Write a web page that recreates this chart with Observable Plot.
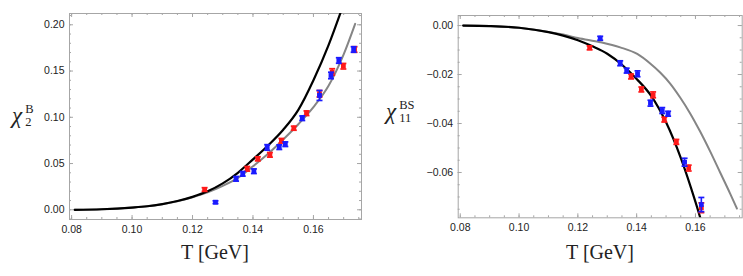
<!DOCTYPE html>
<html><head><meta charset="utf-8">
<script src="https://cdn.jsdelivr.net/npm/d3@7"></script>
<script src="https://cdn.jsdelivr.net/npm/@observablehq/plot@0.6"></script>
<style>
body{margin:0;background:#fff;}
#wrap{position:relative;width:743px;height:276px;overflow:hidden;background:#fff;}
.panel{position:absolute;top:0;}
.xlab{position:absolute;font-family:"Liberation Serif","DejaVu Serif",serif;font-size:20px;color:#222;white-space:nowrap;transform:translateX(-50%);line-height:22px;}
.ylab{position:absolute;font-family:"Liberation Serif","DejaVu Serif",serif;color:#222;white-space:nowrap;display:flex;align-items:center;}
.chi{font-style:italic;font-size:23px;line-height:24px;}
.ss{display:inline-flex;flex-direction:column;font-size:12.5px;line-height:13px;margin-left:3px;}
</style></head><body><div id="wrap"></div>
<script>
// ---- data ----
const tempRed  = [0.1240,0.1381,0.1416,0.1456,0.1494,0.1535,0.1577,0.1620,0.1662,0.1699,0.1736];
const chi2Red  = [0.0219,0.0443,0.0551,0.0594,0.0746,0.0882,0.1044,0.1254,0.1490,0.1552,0.1733];
const chi2RedErr = [0.0020,0.0025,0.0022,0.0025,0.0025,0.0022,0.0025,0.0035,0.0035,0.0030,0.0030];
const tempBlue = [0.1276,0.1344,0.1366,0.1403,0.1447,0.1487,0.1507,0.1563,0.1620,0.1658,0.1684,0.1733];
const chi2Blue = [0.0082,0.0335,0.0389,0.0417,0.0674,0.0677,0.0709,0.0990,0.1236,0.1452,0.1614,0.1733];
const chi2BlueErr = [0.0015,0.0025,0.0025,0.0025,0.0030,0.0025,0.0025,0.0025,0.0054,0.0035,0.0030,0.0030];

const chi11Red = [-0.0091,-0.0208,-0.0261,-0.0283,-0.0384,-0.0475,-0.0582,-0.0744];
const chi11RedErr = [0.0008,0.0010,0.0010,0.0012,0.0010,0.0010,0.0012,0.0020];
const chi11Blue = [-0.0052,-0.0154,-0.0184,-0.0197,-0.0317,-0.0347,-0.0360,-0.0558,-0.0731];
const chi11BlueErr = [0.0008,0.0010,0.0010,0.0012,0.0012,0.0012,0.0010,0.0016,0.0029];

const curveT_L1 = [0.081,0.090,0.100,0.105,0.110,0.115,0.120,0.125,0.130,0.135,0.140,0.145,0.150,0.155,0.160,0.165,0.1695];
const chi2Black = [0.0000,0.0006,0.0024,0.0038,0.0062,0.0095,0.0140,0.0200,0.0285,0.0400,0.0545,0.0695,0.0865,0.1080,0.1400,0.1780,0.2180];
const curveT_L2 = [0.081,0.090,0.100,0.105,0.110,0.115,0.120,0.125,0.130,0.135,0.140,0.145,0.150,0.155,0.160,0.165,0.170,0.1738];
const chi2Gray  = [0.0000,0.0006,0.0024,0.0038,0.0060,0.0092,0.0135,0.0188,0.0258,0.0345,0.0470,0.0605,0.0760,0.0925,0.1110,0.1340,0.1680,0.2010];

const curveT_R1 = [0.081,0.090,0.100,0.110,0.115,0.120,0.125,0.130,0.135,0.140,0.145,0.150,0.155,0.160,0.1625];
const chi11Black = [0.0000,-0.0002,-0.0009,-0.0027,-0.0041,-0.0060,-0.0085,-0.0115,-0.0160,-0.0218,-0.0288,-0.0395,-0.0540,-0.0720,-0.0820];
const curveT_R2 = [0.081,0.090,0.100,0.110,0.115,0.120,0.1276,0.1344,0.1402,0.1446,0.1480,0.1514,0.1548,0.1582,0.1616,0.1650,0.1684,0.1718,0.1741];
const chi11Gray  = [0.0000,-0.0002,-0.0009,-0.0026,-0.0037,-0.0051,-0.0068,-0.0089,-0.0116,-0.0155,-0.0192,-0.0237,-0.0294,-0.0359,-0.0433,-0.0514,-0.0600,-0.0686,-0.0747];

const xTicks = [0.08,0.10,0.12,0.14,0.16];
const yTicksL = [0.00,0.05,0.10,0.15,0.20];
const yTicksR = [0.00,-0.02,-0.04,-0.06];
const xLabel = "T [GeV]";

// ---- helpers ----
const RED = "#ff1a1a", BLUE = "#1a1aff";
const cap = {draw(ctx, size){ const r = Math.sqrt(size/Math.PI); ctx.moveTo(-r,0); ctx.lineTo(r,0); }};
const rows = (ts, vs, es) => vs.map((v,i)=>({T: ts[i], v, lo: v-es[i], hi: v+es[i]}));
const range = (a,b,s) => d3.range(Math.round(a/s), Math.round(b/s)+1).map(k=>+(k*s).toFixed(6));

function pointMarks(data, color){
  return [
    Plot.ruleX(data, {x:"T", y1:"lo", y2:"hi", stroke:color, strokeWidth:1.6}),
    Plot.dot(data, {x:"T", y:"lo", symbol:cap, r:3, stroke:color, strokeWidth:1.7}),
    Plot.dot(data, {x:"T", y:"hi", symbol:cap, r:3, stroke:color, strokeWidth:1.7}),
    Plot.dot(data, {x:"T", y:"v", symbol:"square", r:2.7, fill:color})
  ];
}

function panel(o){
  const ph = o.height - o.mt - o.mb, pw = o.width - o.ml - o.mr;
  const frameColor = "#a6a6a6";
  const tk = (vals, len, side) => side==="bottom" ? Plot.tickX(vals,{x:d=>d, insetTop:ph-len, stroke:frameColor})
    : side==="top" ? Plot.tickX(vals,{x:d=>d, insetBottom:ph-len, stroke:frameColor})
    : side==="left" ? Plot.tickY(vals,{y:d=>d, insetRight:pw-len, stroke:frameColor})
    : Plot.tickY(vals,{y:d=>d, insetLeft:pw-len, stroke:frameColor});
  return Plot.plot({
    width:o.width, height:o.height,
    marginLeft:o.ml, marginRight:o.mr, marginTop:o.mt, marginBottom:o.mb,
    x:{domain:o.xd}, y:{domain:o.yd},
    style:{fontFamily:"'Liberation Sans', Arial, sans-serif", fontSize:"10.5px", color:"#222", background:"transparent", overflow:"visible"},
    marks:[
      ...["bottom","top"].flatMap(s=>[tk(o.xMinor,2,s), tk(xTicks,4,s)]),
      ...["left","right"].flatMap(s=>[tk(o.yMinor,2,s), tk(o.yMajor,4,s)]),
      Plot.frame({stroke:frameColor, strokeWidth:1}),
      Plot.axisX({ticks:xTicks, tickSize:0, tickPadding:6, tickFormat:d3.format(".2f"), label:null}),
      Plot.axisY({ticks:o.yMajor, tickSize:0, tickPadding:5, tickFormat:d3.format(".2f"), label:null}),
      Plot.line(o.gray, {x:"T", y:"v", stroke:"#858585", strokeWidth:2, curve:"monotone-x", clip:true}),
      Plot.line(o.black, {x:"T", y:"v", stroke:"#000", strokeWidth:2.2, curve:"monotone-x", clip:true}),
      ...pointMarks(o.red, RED),
      ...pointMarks(o.blue, BLUE)
    ]
  });
}

const wrap = document.getElementById("wrap");
const xd = [0.0793, 0.1759];
const line = (ts, vs) => vs.map((v,i)=>({T: ts[i], v}));

const left = panel({width:370, height:276, ml:69, mr:9, mt:13, mb:57, xd, yd:[-0.0105,0.2122],
  xMinor: range(0.08,0.175,0.005), yMajor: yTicksL, yMinor: range(-0.01,0.21,0.01),
  gray: line(curveT_L2, chi2Gray), black: line(curveT_L1, chi2Black),
  red: rows(tempRed, chi2Red, chi2RedErr), blue: rows(tempBlue, chi2Blue, chi2BlueErr)});
left.classList.add("panel"); left.style.left = "0px";
wrap.appendChild(left);

const right = panel({width:373, height:276, ml:87.7, mr:1.3, mt:15, mb:58.7, xd, yd:[-0.0785,0.0041],
  xMinor: range(0.08,0.175,0.005), yMajor: yTicksR, yMinor: range(-0.075,0.0,0.005),
  gray: line(curveT_R2, chi11Gray), black: line(curveT_R1, chi11Black),
  red: rows(tempRed, chi11Red, chi11RedErr), blue: rows(tempBlue, chi11Blue, chi11BlueErr)});
right.classList.add("panel"); right.style.left = "370px";
wrap.appendChild(right);

// axis titles
function addDiv(cls, x, y, html){ const d=document.createElement("div"); d.className=cls; d.style.left=x+"px"; d.style.top=y+"px"; d.innerHTML=html; wrap.appendChild(d); return d; }
addDiv("xlab", 215, 241).textContent = xLabel;
addDiv("xlab", 600, 241).textContent = xLabel;
addDiv("ylab", 12, 103, '<span class="chi">χ</span><span class="ss"><span>B</span><span>2</span></span>');
addDiv("ylab", 386, 99, '<span class="chi">χ</span><span class="ss"><span>BS</span><span>11</span></span>');
</script></body></html>
